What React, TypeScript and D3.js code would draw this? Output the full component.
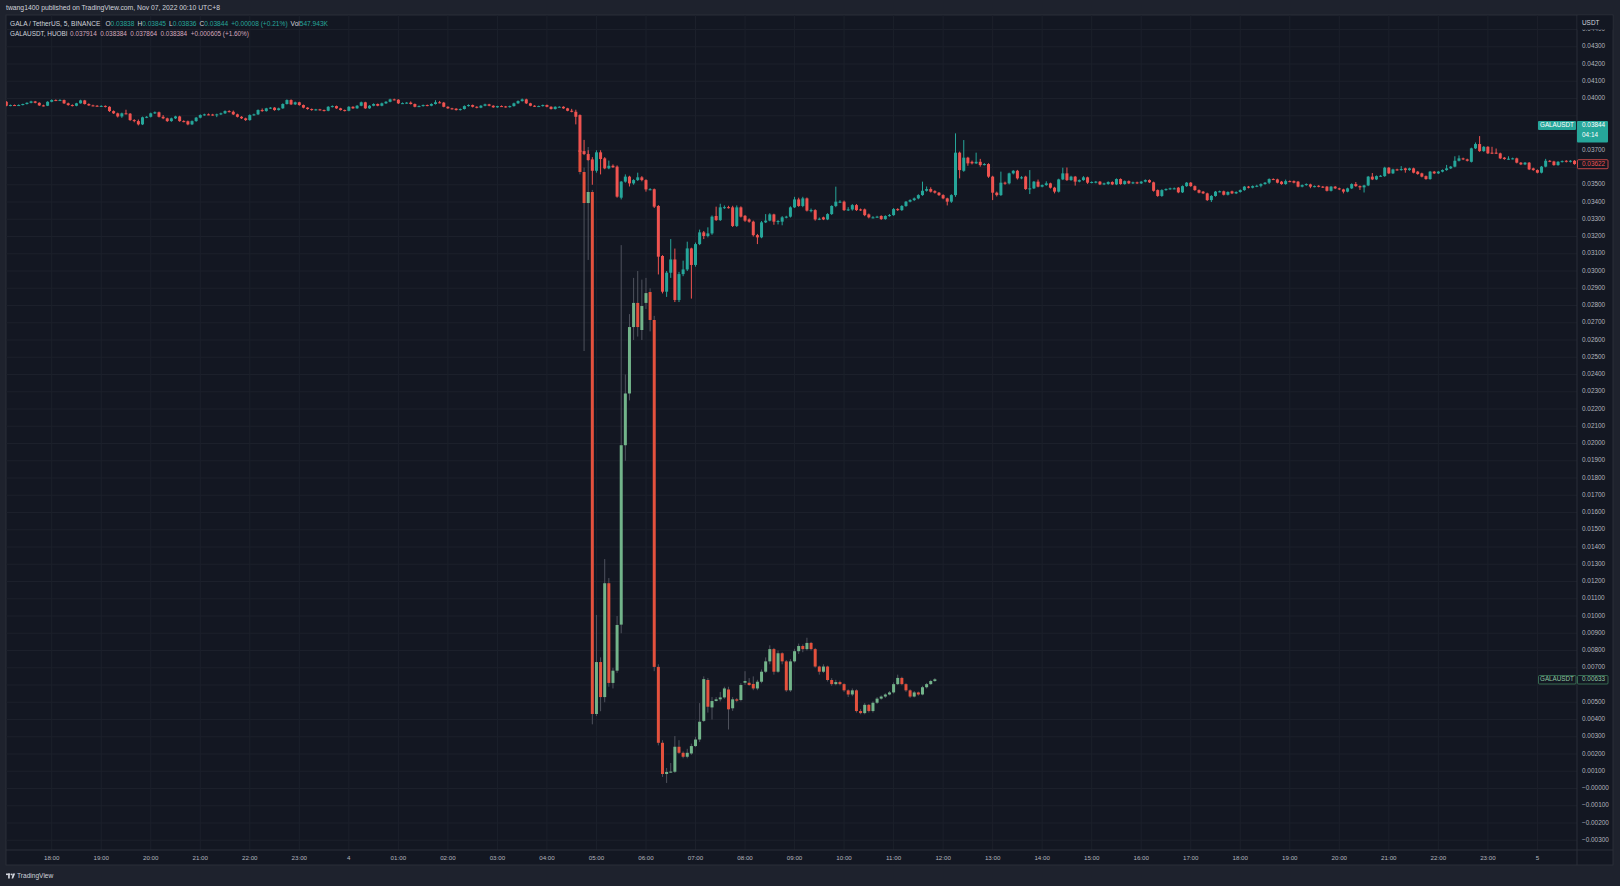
import React from "react";
import * as d3 from "d3";

// ---------- DATA (prices in units of 0.00001 USDT) ----------
// GALA / TetherUS, 5 min, BINANCE : [open, high, low, close], first bar Nov 3 17:05
const galaCandles: [number, number, number, number][] = [
  [3981,3985,3955,3958],[3958,3965,3955,3962],[3962,3965,3957,3960],[3960,3966,3957,3962],[3962,3970,3960,3968],
  [3968,3978,3965,3975],[3975,3987,3972,3983],[3983,3986,3972,3975],[3975,3978,3957,3960],[3960,3964,3954,3958],
  [3958,3984,3956,3981],[3981,3995,3978,3991],[3991,3995,3985,3989],[3989,3996,3986,3991],[3991,3994,3968,3972],
  [3972,3976,3958,3962],[3962,3966,3954,3958],[3958,3975,3955,3972],[3972,3993,3970,3989],[3989,3992,3965,3968],
  [3968,3972,3957,3960],[3960,3964,3955,3958],[3958,3962,3953,3956],[3956,3961,3952,3957],[3957,3960,3948,3952],
  [3952,3955,3922,3927],[3927,3931,3910,3914],[3914,3918,3890,3896],[3896,3918,3888,3914],[3914,3935,3908,3912],
  [3912,3916,3870,3875],[3875,3880,3862,3869],[3869,3878,3844,3850],[3850,3895,3846,3891],[3891,3898,3886,3894],
  [3894,3918,3890,3914],[3914,3925,3910,3920],[3920,3924,3890,3894],[3894,3904,3880,3885],[3885,3889,3864,3869],
  [3869,3889,3865,3885],[3885,3900,3881,3896],[3896,3900,3865,3869],[3869,3874,3862,3868],[3868,3872,3845,3850],
  [3850,3873,3846,3869],[3869,3893,3865,3889],[3889,3908,3885,3904],[3904,3912,3900,3908],[3908,3913,3903,3907],
  [3907,3911,3900,3904],[3904,3912,3892,3908],[3908,3918,3904,3914],[3914,3931,3910,3927],[3927,3932,3919,3923],
  [3923,3930,3904,3908],[3908,3912,3890,3894],[3894,3898,3881,3885],[3885,3889,3870,3875],[3875,3908,3871,3904],
  [3904,3912,3900,3908],[3908,3937,3904,3933],[3933,3942,3923,3927],[3927,3946,3924,3943],[3943,3950,3939,3947],
  [3947,3950,3929,3933],[3933,3947,3930,3943],[3943,3972,3940,3968],[3968,3995,3965,3991],[3991,3995,3962,3966],
  [3966,3982,3962,3978],[3978,3981,3958,3962],[3962,3965,3943,3947],[3947,3950,3935,3939],[3939,3942,3929,3933],
  [3933,3940,3930,3937],[3937,3940,3930,3933],[3933,3936,3925,3929],[3929,3956,3926,3952],[3952,3960,3948,3956],
  [3956,3959,3940,3943],[3943,3946,3930,3933],[3933,3936,3925,3929],[3929,3956,3926,3952],[3952,3955,3940,3943],
  [3943,3962,3940,3958],[3958,3982,3955,3978],[3978,3981,3940,3943],[3943,3962,3940,3958],[3958,3972,3955,3968],
  [3968,3971,3955,3958],[3958,3976,3955,3972],[3972,3985,3968,3981],[3981,3999,3978,3995],[3995,3999,3989,3993],
  [3993,3996,3968,3972],[3972,3977,3968,3973],[3973,3979,3970,3976],[3976,3983,3965,3968],[3968,3971,3949,3952],
  [3952,3960,3950,3956],[3956,3965,3953,3962],[3962,3965,3955,3958],[3958,3972,3955,3968],[3968,3990,3965,3978],
  [3978,3986,3972,3976],[3976,3980,3949,3952],[3952,3955,3940,3943],[3943,3946,3936,3941],[3941,3944,3930,3933],
  [3933,3942,3930,3939],[3939,3960,3936,3956],[3956,3966,3953,3962],[3962,3965,3948,3952],[3952,3955,3943,3947],
  [3947,3962,3944,3958],[3958,3970,3955,3966],[3966,3969,3955,3958],[3958,3961,3946,3949],[3949,3958,3946,3956],
  [3956,3960,3951,3954],[3954,3957,3947,3950],[3950,3959,3947,3956],[3956,3976,3953,3972],[3972,3989,3969,3985],
  [3985,4000,3982,3995],[3995,3999,3968,3972],[3972,3975,3955,3958],[3958,3961,3951,3954],[3954,3959,3951,3956],
  [3956,3965,3953,3962],[3962,3965,3949,3952],[3952,3955,3936,3939],[3939,3955,3936,3952],[3952,3955,3949,3952],
  [3952,3955,3940,3943],[3943,3946,3926,3929],[3929,3940,3920,3923],[3923,3935,3850,3894],[3904,3908,3670,3690],
  [3695,3760,3672,3678],[3678,3700,3640,3643],[3647,3660,3500,3581],[3581,3700,3570,3688],[3688,3700,3560,3649],
  [3653,3660,3590,3595],[3595,3640,3590,3610],[3610,3618,3598,3601],[3605,3612,3425,3431],[3425,3522,3415,3518],
  [3518,3560,3512,3547],[3547,3552,3490,3508],[3508,3532,3500,3527],[3527,3570,3522,3543],[3543,3550,3520,3527],
  [3527,3532,3460,3473],[3473,3480,3468,3474],[3474,3478,3365,3373],[3377,3382,2980,3083],[3087,3092,2870,2880],
  [2880,3000,2850,2990],[2990,3185,2960,3067],[3067,3130,2820,2832],[2832,2995,2820,2982],[2982,3060,2970,3009],
  [3009,3170,3000,3131],[3131,3135,2840,3035],[3035,3165,3025,3156],[3156,3240,3150,3224],[3224,3232,3185,3203],
  [3203,3253,3195,3218],[3218,3322,3210,3315],[3319,3373,3290,3295],[3295,3390,3290,3369],[3369,3380,3360,3370],
  [3370,3378,3362,3369],[3369,3378,3255,3261],[3261,3380,3255,3369],[3369,3375,3310,3315],[3320,3325,3285,3292],
  [3299,3305,3280,3286],[3286,3292,3200,3208],[3208,3215,3156,3195],[3195,3290,3190,3282],[3282,3330,3278,3292],
  [3292,3335,3288,3328],[3328,3332,3268,3286],[3286,3295,3270,3290],[3286,3318,3265,3311],[3311,3320,3305,3315],
  [3315,3375,3310,3369],[3369,3430,3365,3415],[3415,3425,3372,3377],[3377,3430,3370,3421],[3421,3426,3345,3350],
  [3350,3362,3340,3353],[3353,3358,3292,3299],[3299,3310,3295,3303],[3311,3315,3295,3299],[3299,3335,3295,3330],
  [3330,3381,3325,3377],[3377,3489,3370,3402],[3402,3410,3395,3402],[3402,3408,3348,3353],[3353,3370,3348,3357],
  [3357,3388,3350,3382],[3382,3388,3348,3353],[3357,3362,3348,3353],[3357,3362,3318,3324],[3328,3333,3305,3311],
  [3311,3318,3305,3311],[3311,3320,3308,3315],[3319,3323,3296,3301],[3301,3323,3297,3319],[3319,3330,3315,3324],
  [3324,3365,3320,3359],[3359,3364,3348,3353],[3353,3382,3348,3377],[3377,3406,3372,3402],[3402,3416,3398,3411],
  [3411,3426,3406,3421],[3421,3445,3416,3440],[3440,3518,3436,3465],[3465,3490,3460,3475],[3475,3485,3455,3460],
  [3463,3468,3449,3454],[3454,3458,3435,3440],[3440,3445,3416,3421],[3421,3425,3380,3402],[3402,3445,3395,3440],
  [3440,3798,3430,3686],[3686,3692,3537,3585],[3581,3759,3575,3657],[3657,3662,3610,3624],[3633,3640,3618,3624],
  [3624,3686,3620,3633],[3633,3650,3605,3614],[3614,3625,3612,3620],[3620,3625,3540,3547],[3547,3552,3411,3454],
  [3454,3460,3432,3440],[3440,3576,3435,3512],[3512,3518,3500,3508],[3508,3570,3502,3566],[3566,3585,3560,3581],
  [3581,3586,3530,3537],[3537,3550,3532,3543],[3547,3552,3470,3475],[3475,3585,3446,3479],[3479,3522,3475,3518],
  [3518,3530,3485,3489],[3489,3502,3485,3498],[3498,3520,3494,3508],[3508,3512,3478,3483],[3483,3488,3450,3460],
  [3460,3535,3455,3531],[3531,3599,3527,3566],[3566,3600,3522,3527],[3527,3552,3523,3547],[3547,3551,3495,3518],
  [3518,3531,3514,3527],[3527,3550,3523,3543],[3543,3547,3505,3512],[3512,3520,3508,3516],[3512,3522,3508,3518],
  [3518,3522,3498,3502],[3502,3512,3498,3508],[3504,3520,3500,3516],[3516,3520,3498,3502],[3502,3537,3498,3533],
  [3533,3537,3500,3504],[3504,3525,3500,3521],[3521,3525,3504,3508],[3508,3518,3504,3514],[3514,3518,3504,3508],
  [3508,3522,3504,3518],[3518,3531,3514,3527],[3527,3531,3510,3514],[3514,3518,3460,3465],[3469,3473,3430,3435],
  [3435,3474,3430,3469],[3469,3479,3465,3475],[3475,3483,3471,3479],[3479,3484,3474,3479],[3483,3487,3451,3456],
  [3456,3496,3452,3492],[3492,3516,3488,3512],[3512,3516,3488,3492],[3492,3496,3465,3469],[3469,3473,3450,3454],
  [3460,3464,3446,3450],[3450,3454,3406,3411],[3411,3440,3400,3435],[3435,3464,3431,3460],[3460,3466,3456,3462],
  [3462,3466,3438,3442],[3442,3462,3438,3458],[3462,3466,3446,3450],[3450,3462,3446,3458],[3458,3473,3454,3469],
  [3469,3493,3465,3489],[3489,3493,3479,3483],[3483,3496,3479,3492],[3492,3500,3486,3494],[3494,3508,3485,3504],
  [3504,3516,3500,3512],[3512,3537,3504,3533],[3533,3537,3527,3531],[3531,3535,3508,3512],[3518,3522,3500,3504],
  [3504,3530,3500,3521],[3521,3525,3515,3519],[3521,3525,3508,3512],[3518,3522,3485,3489],[3489,3502,3485,3498],
  [3498,3508,3494,3504],[3502,3506,3480,3489],[3489,3496,3485,3492],[3494,3498,3485,3489],[3489,3493,3481,3485],
  [3489,3493,3461,3465],[3465,3493,3461,3489],[3489,3493,3475,3479],[3479,3483,3469,3473],[3473,3477,3450,3460],
  [3460,3483,3456,3479],[3479,3508,3475,3504],[3504,3516,3488,3492],[3492,3496,3470,3485],[3485,3500,3455,3496],
  [3496,3551,3492,3547],[3547,3568,3527,3531],[3531,3554,3527,3550],[3550,3556,3546,3552],[3550,3604,3546,3599],
  [3599,3603,3562,3566],[3566,3593,3562,3589],[3589,3593,3581,3585],[3585,3608,3581,3591],[3595,3599,3570,3585],
  [3585,3599,3581,3595],[3595,3599,3566,3570],[3576,3580,3558,3562],[3566,3570,3543,3547],[3550,3554,3529,3533],
  [3533,3580,3529,3576],[3576,3580,3562,3566],[3566,3580,3562,3576],[3576,3589,3572,3585],[3585,3615,3581,3595],
  [3595,3609,3591,3605],[3605,3665,3601,3639],[3639,3670,3635,3653],[3653,3657,3643,3647],[3647,3651,3635,3639],
  [3633,3715,3629,3711],[3711,3745,3707,3736],[3736,3782,3691,3695],[3695,3724,3691,3720],[3720,3724,3678,3682],
  [3686,3720,3678,3682],[3686,3710,3678,3682],[3682,3686,3649,3653],[3657,3661,3645,3649],[3649,3665,3645,3651],
  [3651,3657,3647,3653],[3653,3657,3624,3628],[3628,3632,3614,3618],[3618,3632,3614,3628],[3628,3632,3585,3589],
  [3595,3599,3581,3585],[3585,3589,3566,3570],[3570,3609,3566,3605],[3605,3650,3601,3639],[3639,3643,3631,3635],
  [3635,3639,3610,3614],[3614,3637,3610,3633],[3633,3641,3629,3637],[3639,3643,3629,3633],[3633,3643,3629,3639],
  [3639,3643,3616,3620],
];

// GALAUSDT, 5 min, HUOBI : [open, high, low, close], first bar Nov 4 04:40
const huobiCandles: [number, number, number, number][] = [
  [3700,3720,3560,3574],[3574,3600,2536,3394],[3394,3719,3064,3458],[3458,3470,372,432],[432,1006,420,733],
  [733,760,448,530],[530,1330,500,1190],[1190,1220,590,612],[612,700,580,683],[683,1000,670,948],
  [950,3150,900,1990],[1990,2400,1900,2290],[2290,2750,2250,2675],[2675,2960,2600,2815],[2815,3000,2620,2675],
  [2658,2950,2600,2797],[2815,2960,2780,2872],[2878,2900,2650,2716],[2716,2740,680,705],[705,720,250,265],
  [265,280,67,84],[84,119,32,96],[98,148,90,98],[97,304,90,242],[242,280,200,207],
  [207,215,175,184],[184,230,175,207],[203,260,195,246],[246,300,240,284],[284,495,270,387],
  [392,650,385,634],[629,640,440,474],[470,530,400,507],[507,530,505,517],[517,560,505,528],
  [528,590,520,580],[574,590,342,459],[465,530,450,517],[517,525,500,509],[513,610,505,600],
  [613,680,600,623],[613,640,595,600],[606,650,570,580],[580,630,570,619],[619,690,610,677],
  [677,760,670,737],[737,830,720,808],[808,815,660,677],[677,800,670,784],[784,790,720,737],
  [737,745,560,569],[569,750,560,737],[737,810,730,796],[796,840,780,826],[826,835,790,808],
  [808,874,800,844],[844,850,800,808],[808,815,700,707],[707,712,660,677],[677,720,670,707],
  [707,712,620,629],[629,640,595,605],[605,630,598,617],[617,625,598,605],[605,610,560,569],
  [569,575,530,545],[545,580,535,569],[569,575,440,449],[449,460,430,437],[437,495,430,485],
  [485,490,440,449],[449,505,440,497],[497,530,490,521],[521,540,515,533],[533,552,525,545],
  [545,565,540,557],[557,615,550,605],[605,660,600,641],[641,648,598,605],[605,610,560,569],
  [569,575,525,533],[533,565,528,557],[557,562,538,545],[545,595,540,587],[587,612,580,605],
  [605,630,600,623],[623,640,618,633],
];

const timeTickLabels = [
  "18:00","19:00","20:00","21:00","22:00","23:00","4","01:00","02:00","03:00","04:00","05:00",
  "06:00","07:00","08:00","09:00","10:00","11:00","12:00","13:00","14:00","15:00","16:00","17:00",
  "18:00","19:00","20:00","21:00","22:00","23:00","5",
];

const headerText = "twang1400 published on TradingView.com, Nov 07, 2022 00:10 UTC+8";
const galaLegend = { title: "GALA / TetherUS, 5, BINANCE", o: "0.03838", h: "0.03845", l: "0.03836", c: "0.03844", chg: "+0.00008 (+0.21%)", vol: "547.943K" };
const huobiLegend = { title: "GALAUSDT, HUOBI", values: ["0.037914", "0.038384", "0.037864", "0.038384", "+0.000605 (+1.60%)"] };
const lastLabels = { galaPrice: 0.03844, galaText: "0.03844", countdown: "04:14", galaPrev: 0.03622, galaPrevText: "0.03622", huobiPrice: 0.00633, huobiText: "0.00633" };

// ---------- LAYOUT ----------
const W = 1620, H = 886;
const PL = 6, PR = 1577, PT = 15, PB = 850, AXR = 1613, FB = 865;
const BAR_MS = 5 * 60 * 1000;
const galaStart = Date.UTC(2022, 10, 3, 17, 5);
const huobiStart = Date.UTC(2022, 10, 4, 4, 40);
const tickStart = Date.UTC(2022, 10, 3, 18);

const x = d3.scaleTime()
  .domain([new Date(Date.UTC(2022, 10, 3, 18)), new Date(Date.UTC(2022, 10, 5, 0))])
  .range([51.7, 1537.4]);
const y = d3.scaleLinear().domain([0, 0.04]).range([788.5, 98.5]);
const priceTicks = d3.range(-3, 45).map((i) => i / 1000);
const fmtPrice = (v: number) => (v <= 0 ? "\u2212" + Math.abs(v).toFixed(5) : v.toFixed(5));

const FONT = "'Liberation Sans', Arial, sans-serif";
const BG = "#131722", OUTER = "#1e222d", GRID = "#1c202b", BORDER = "#2a2e39";
const TXT = "#b2b5be";
const UP = "#26a69a", DOWN = "#ef5350";
const H_UP = "#72b48a", H_DOWN = "#e4513d", H_WICK = "#4f525d";

function Candles({ data, start, up, down, wickUp, wickDown }: any) {
  return (
    <g>
      {data.map((d: number[], i: number) => {
        const [o, h, l, c] = d.map((v) => v / 1e5);
        const cx = x(new Date(start + i * BAR_MS));
        const isUp = c >= o;
        const col = isUp ? up : down;
        const top = y(Math.max(o, c));
        const hgt = Math.max(1, Math.abs(y(o) - y(c)));
        return (
          <g key={i}>
            <line x1={cx} x2={cx} y1={y(h)} y2={y(l)} stroke={isUp ? wickUp : wickDown} strokeWidth={1} />
            <rect x={cx - 1.5} y={top} width={3} height={hgt} fill={col} />
          </g>
        );
      })}
    </g>
  );
}

export default function App() {
  const gY = y(lastLabels.galaPrice);
  const pY = y(lastLabels.galaPrev);
  const hY = y(lastLabels.huobiPrice);
  // tick labels fully hidden behind the live-price boxes are not drawn
  const visibleTicks = priceTicks.filter((v) => Math.abs(y(v) - gY) > 12 && Math.abs(y(v) - pY) > 6 && Math.abs(y(v) - hY) > 7);
  return (
    <div style={{ position: "fixed", left: 0, top: 0, width: W, height: H, background: OUTER }}>
      <svg width={W} height={H} viewBox={`0 0 ${W} ${H}`} style={{ display: "block", fontFamily: FONT }}>
        <defs>
          <clipPath id="plot"><rect x={PL} y={PT} width={PR - PL} height={PB - PT} /></clipPath>
        </defs>
        <rect x={0} y={0} width={W} height={H} fill={OUTER} />
        <text x={6} y={8} fontSize={6.8} fill="#d1d4dc" dominantBaseline="middle">{headerText}</text>

        <rect x={PL} y={PT} width={AXR - PL} height={FB - PT} fill={BG} stroke={BORDER} strokeWidth={1} />

        {/* grid */}
        <g clipPath="url(#plot)">
          {priceTicks.map((v) => (
            <line key={"h" + v} x1={PL} x2={PR} y1={y(v)} y2={y(v)} stroke={GRID} strokeWidth={1} />
          ))}
          {timeTickLabels.map((t, i) => {
            const xx = x(new Date(tickStart + i * 3600 * 1000));
            return <line key={"v" + i} x1={xx} x2={xx} y1={PT} y2={PB} stroke={GRID} strokeWidth={1} />;
          })}
        </g>

        {/* series */}
        <g clipPath="url(#plot)">
          <Candles data={huobiCandles} start={huobiStart} up={H_UP} down={H_DOWN} wickUp={H_WICK} wickDown={H_WICK} />
          <Candles data={galaCandles} start={galaStart} up={UP} down={DOWN} wickUp={UP} wickDown={DOWN} />
        </g>

        {/* legend */}
        <text x={10} y={23.5} fontSize={6.6} dominantBaseline="middle" fill="#d1d4dc">
          <tspan>{galaLegend.title}</tspan>
          <tspan dx={5}>O</tspan><tspan fill={UP}>{galaLegend.o}</tspan>
          <tspan dx={3}>H</tspan><tspan fill={UP}>{galaLegend.h}</tspan>
          <tspan dx={3}>L</tspan><tspan fill={UP}>{galaLegend.l}</tspan>
          <tspan dx={3}>C</tspan><tspan fill={UP}>{galaLegend.c}</tspan>
          <tspan dx={3} fill={UP}>{galaLegend.chg}</tspan>
          <tspan dx={3}>Vol</tspan><tspan fill={UP}>{galaLegend.vol}</tspan>
        </text>
        <text x={10} y={33.5} fontSize={6.4} dominantBaseline="middle" fill="#d1d4dc">
          <tspan>{huobiLegend.title}</tspan>
          {huobiLegend.values.map((v, i) => (
            <tspan key={i} dx={i === 0 ? 2.5 : 3.5} fill="#d6a8bd">{v}</tspan>
          ))}
        </text>

        {/* axes separators */}
        <line x1={PR} x2={PR} y1={PT} y2={FB} stroke={BORDER} />
        <line x1={PL} x2={AXR} y1={PB} y2={PB} stroke={BORDER} />

        {/* price axis */}
        {visibleTicks.map((v) => (
          <text key={"p" + v} x={1582} y={y(v)} fontSize={6.4} fill={TXT} dominantBaseline="middle">{fmtPrice(v)}</text>
        ))}
        <rect x={PR + 0.5} y={PT + 0.5} width={AXR - PR - 1} height={14} fill={BG} />
        <text x={1582} y={23} fontSize={6.4} fill="#d1d4dc" dominantBaseline="middle">USDT</text>

        {/* time axis */}
        {timeTickLabels.map((t, i) => (
          <text key={"t" + i} x={x(new Date(tickStart + i * 3600 * 1000))} y={858} fontSize={6.2} fill={TXT}
            textAnchor="middle" dominantBaseline="middle">{t}</text>
        ))}

        {/* last price labels */}
        <rect x={1538} y={gY - 4.5} width={38} height={9} fill={UP} rx={1} />
        <text x={1557} y={gY} fontSize={6.3} fill="#ffffff" textAnchor="middle" dominantBaseline="middle">GALAUSDT</text>
        <rect x={1577} y={gY - 4.5} width={31} height={21.5} fill={UP} rx={1} />
        <text x={1582} y={gY + 0.3} fontSize={6.4} fill="#ffffff" dominantBaseline="middle">{lastLabels.galaText}</text>
        <text x={1582} y={gY + 10} fontSize={6.4} fill="#ffffff" dominantBaseline="middle">{lastLabels.countdown}</text>

        <rect x={1577.5} y={pY - 4} width={30.5} height={9} fill={BG} stroke={DOWN} strokeWidth={0.8} rx={1} />
        <text x={1582} y={pY + 0.5} fontSize={6.4} fill={DOWN} dominantBaseline="middle">{lastLabels.galaPrevText}</text>

        <rect x={1538.5} y={hY - 3.8} width={37.5} height={8.5} fill={BG} stroke="#3f7f5c" strokeWidth={0.8} rx={1} />
        <text x={1557} y={hY + 0.4} fontSize={6.3} fill="#8cc4a0" textAnchor="middle" dominantBaseline="middle">GALAUSDT</text>
        <rect x={1577.5} y={hY - 3.8} width={30.5} height={8.5} fill={BG} stroke="#3f7f5c" strokeWidth={0.8} rx={1} />
        <text x={1582} y={hY + 0.4} fontSize={6.4} fill="#8cc4a0" dominantBaseline="middle">{lastLabels.huobiText}</text>

        {/* footer logo */}
        <g fill="#d1d4dc">
          <rect x={6} y={873.5} width={4.2} height={1.6} />
          <rect x={8.1} y={873.5} width={1.7} height={5} />
          <circle cx={11.6} cy={874.4} r={0.9} />
          <polygon points="12.8,873.5 15.2,873.5 13.1,878.5 11.6,878.5" />
        </g>
        <text x={17} y={876.5} fontSize={6.6} fill="#d1d4dc" dominantBaseline="middle">TradingView</text>
      </svg>
    </div>
  );
}
